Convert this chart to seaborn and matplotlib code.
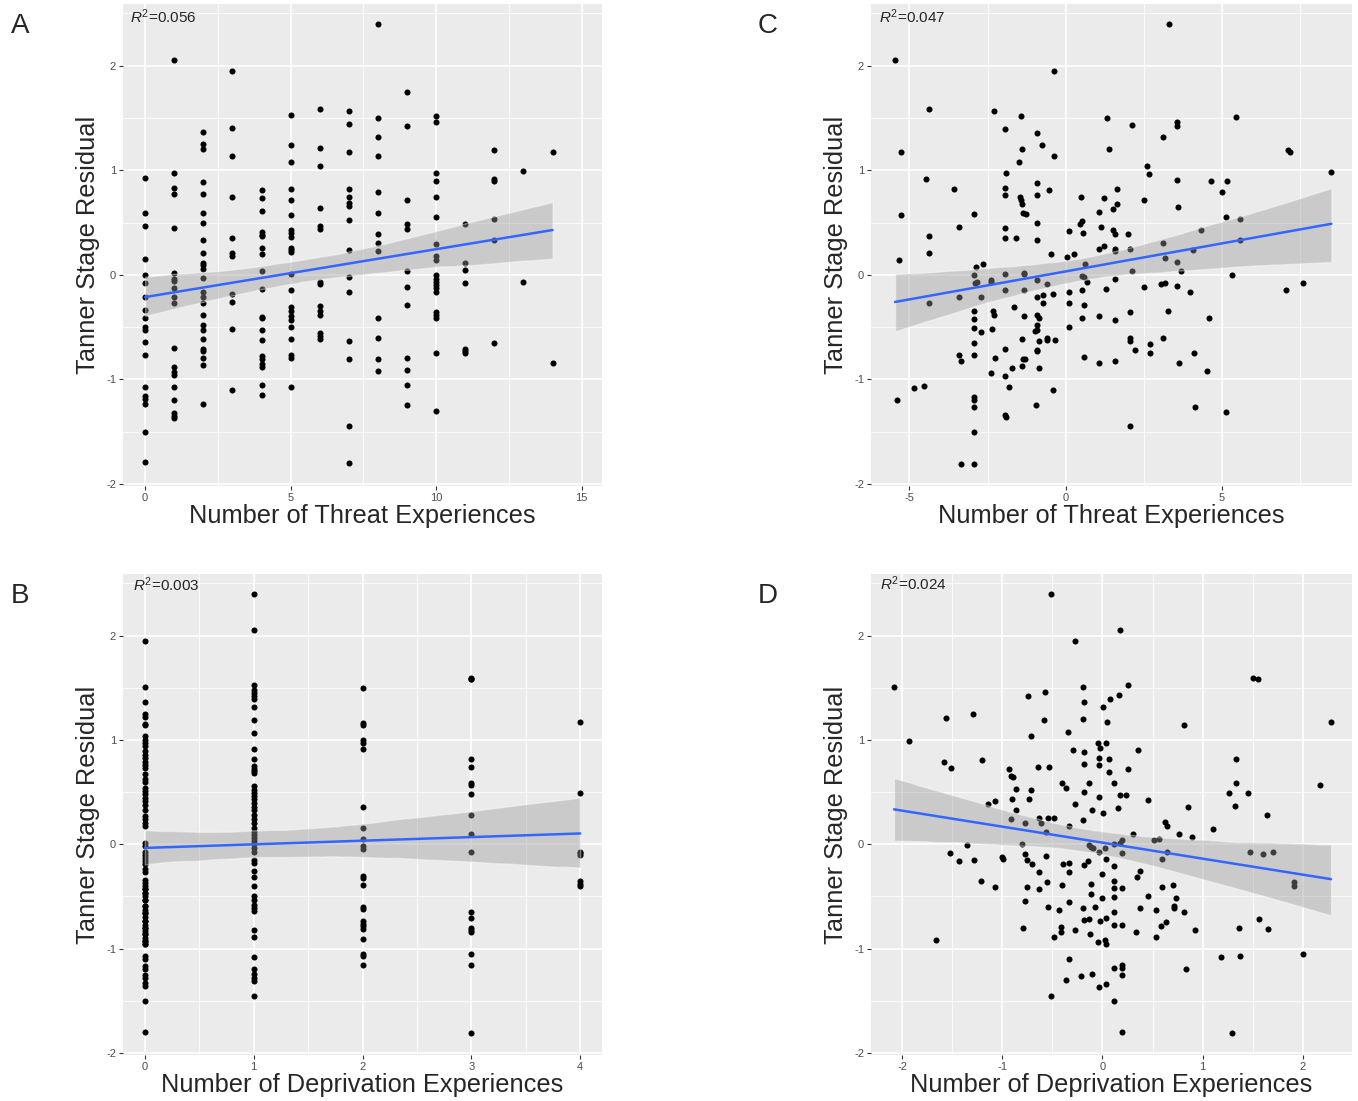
import numpy as np
import pandas as pd
import matplotlib
matplotlib.use("Agg")
import matplotlib.pyplot as plt
import seaborn as sns
from matplotlib.collections import PolyCollection
from matplotlib.ticker import AutoMinorLocator

# --- DATA ---

# Panel A: Tanner residual by raw number of threat experiences (one list per count)
threat_0 = [0.93, 0.59, 0.47, 0.15, 0.00, -0.08, -0.21, -0.34, -0.41, -0.50, -0.53, -0.64, -0.77,
            -1.07, -1.16, -1.19, -1.24, -1.50, -1.79]
threat_1 = [2.05, 0.97, 0.83, 0.77, 0.45, 0.02, -0.04, -0.06, -0.13, -0.21, -0.27, -0.70, -0.88,
            -0.93, -0.96, -1.07, -1.20, -1.32, -1.35, -1.37]
threat_2 = [1.37, 1.25, 1.20, 0.89, 0.77, 0.59, 0.50, 0.33, 0.21, 0.11, 0.09, 0.06, -0.03, -0.16,
            -0.21, -0.27, -0.38, -0.48, -0.53, -0.61, -0.71, -0.73, -0.80, -0.86, -1.24]
threat_3 = [1.95, 1.40, 1.14, 0.74, 0.35, 0.21, 0.18, -0.18, -0.26, -0.52, -1.10]
threat_4 = [0.81, 0.73, 0.61, 0.41, 0.38, 0.37, 0.26, 0.20, 0.04, -0.14, -0.40, -0.41, -0.53,
            -0.62, -0.78, -0.81, -0.85, -0.88, -1.05, -1.15]
threat_5 = [1.53, 1.24, 1.08, 0.82, 0.72, 0.57, 0.43, 0.40, 0.36, 0.26, 0.24, 0.22, 0.01, -0.15,
            -0.31, -0.35, -0.39, -0.43, -0.50, -0.61, -0.77, -0.80, -1.07]
threat_6 = [1.59, 1.21, 1.04, 0.64, 0.47, 0.44, -0.07, -0.09, -0.30, -0.35, -0.38, -0.56, -0.59, -0.61]
threat_7 = [1.57, 1.44, 1.17, 0.82, 0.74, 0.69, 0.66, 0.52, 0.24, -0.02, -0.16, -0.63, -0.81,
            -1.45, -1.80]
threat_8 = [2.40, 1.50, 1.32, 1.14, 0.79, 0.59, 0.39, 0.30, 0.23, -0.41, -0.60, -0.81, -0.92]
threat_9 = [1.75, 1.42, 0.72, 0.49, 0.44, 0.04, -0.12, -0.29, -0.80, -0.91, -1.05, -1.25]
threat_10 = [1.52, 1.46, 0.97, 0.90, 0.74, 0.55, 0.29, 0.18, 0.14, 0.00, -0.04, -0.07, -0.10,
             -0.13, -0.16, -0.36, -0.38, -0.41, -0.75, -1.30]
threat_11 = [0.49, 0.11, 0.05, -0.08, -0.71, -0.73, -0.75]
threat_12 = [1.19, 0.92, 0.90, 0.53, 0.33, -0.65]
threat_13 = [0.99, -0.07]
threat_14 = [1.17, -0.84]

# Panel B: Tanner residual by raw number of deprivation experiences
# (the dense 0 column hides overlapping points; a few stacked duplicates are included)
depriv_0 = [1.95, 1.51, 1.36, 1.25, 1.22, 1.15, 1.14, 1.04, 1.00, 0.97, 0.94, 0.89, 0.86, 0.83,
            0.79, 0.76, 0.73, 0.67, 0.63, 0.60, 0.54, 0.51, 0.48, 0.44, 0.41, 0.38, 0.33, 0.27,
            0.24, 0.20, 0.17, 0.01, -0.02, -0.07, -0.10, -0.13, -0.16, -0.19, -0.24, -0.27,
            -0.34, -0.37, -0.40, -0.43, -0.47, -0.50, -0.53, -0.59, -0.63, -0.66, -0.70, -0.74,
            -0.77, -0.80, -0.83, -0.86, -0.90, -0.93, -0.96, -1.07, -1.10, -1.17, -1.20, -1.25,
            -1.28, -1.33, -1.36, -1.50, -1.80,
            -0.43, -0.47, -0.53, -0.59, -0.66, -0.74, -0.80, -0.86, -0.93, -0.96]
depriv_1 = [2.40, 2.05, 1.53, 1.48, 1.45, 1.42, 1.39, 1.32, 1.19, 1.07, 0.91, 0.82, 0.75, 0.72,
            0.70, 0.68, 0.56, 0.52, 0.49, 0.46, 0.43, 0.40, 0.36, 0.33, 0.28, 0.24, 0.20, 0.16,
            0.12, 0.09, 0.06, 0.03, 0.00, -0.04, -0.07, -0.15, -0.18, -0.26, -0.31, -0.40, -0.50,
            -0.53, -0.58, -0.61, -0.64, -0.82, -0.89, -1.08, -1.20, -1.24, -1.28, -1.31, -1.45]
depriv_2 = [1.50, 1.16, 1.14, 1.00, 0.97, 0.91, 0.36, 0.16, 0.05, -0.02, -0.05, -0.30, -0.32,
            -0.39, -0.60, -0.62, -0.74, -0.76, -0.78, -0.81, -0.91, -1.05, -1.07, -1.16]
depriv_3 = [1.59, 1.58, 1.58, 0.82, 0.74, 0.59, 0.57, 0.48, 0.28, 0.10, -0.07, -0.65, -0.71, -0.80,
            -0.82, -0.84, -1.05, -1.16, -1.81]
depriv_4 = [1.17, 0.49, -0.07, -0.08, -0.10, -0.35, -0.38, -0.40]

# Panel C: threat experiences (residualised) vs Tanner residual
c_x = [-5.46, -4.36, -5.28, -4.47, -3.59, -5.28, -3.40, -4.36, -5.32, -4.39, -4.36, -5.41, -4.87, -4.52, -3.40, -3.34, -3.40,
       -2.93, -2.87, -2.66, -2.92, -2.91, -2.85, -2.72, -2.93, -2.93, -2.93, -2.72, -2.92, -2.93, -2.93, -2.93, -2.93, -2.92, -3.36, -2.93,
       -2.29, -2.40, -2.39, -2.34, -2.31, -2.35, -2.27, -2.40,
       -1.93, -1.92, -1.93, -1.93, -1.93, -1.94, -1.93, -1.93, -1.93, -1.94, -1.94, -1.92, -1.81, -1.73, -1.67, -1.60,
       -1.48, -1.42, -1.40, -1.46, -1.42, -1.39, -1.28, -1.38, -1.35, -1.33, -1.35, -1.35, -1.39, -1.38, -1.39, -1.31,
       -0.93, -0.92, -0.92, -0.93, -0.93, -0.93, -0.93, -0.93, -0.87, -0.93, -0.93, -0.98, -0.93, -0.92, -0.85, -0.86, -0.94,
       -0.77, -0.55, -0.61, -0.74, -0.74, -0.48, -0.61, -0.61, -0.34, -0.42, -0.42, -0.39, -0.37,
       0.05, 0.12, 0.09, 0.09, 0.12, 0.28, 0.46, 0.48, 0.51, 0.54, 0.51, 0.59, 0.51, 0.51, 0.59, 0.59, 0.63, 0.69,
       1.06, 1.13, 1.07, 1.21, 1.24, 1.29, 1.05, 1.06, 1.32, 1.40,
       2.11, 3.32, 3.10, 3.57, 3.57, 5.44, 7.10, 7.18, 8.50, 2.59,
       2.66, 3.57, 4.64, 5.17, 4.99, 1.65, 1.65, 1.50, 2.50, 3.59,
       5.12, 5.58, 4.33, 1.50, 1.58, 1.99, 1.58, 1.58, 2.06, 3.10,
       3.18, 2.12, 1.57, 3.57, 3.68, 4.06, 5.58, 5.32, 2.52, 3.04,
       3.18, 3.57, 3.98, 7.05, 7.58, 2.05, 3.26, 1.59, 4.59, 2.05,
       2.05, 3.12, 2.70, 2.22, 2.70, 1.59, 3.63, 4.11, 4.53, 4.13,
       5.12, 2.06]
c_y = [2.05, 1.59, 1.17, 0.92, 0.82, 0.57, 0.46, 0.37, 0.14, 0.21, -0.27, -1.20, -1.08, -1.06, -0.77, -0.82, -0.21,
       0.58, 0.07, 0.10, 0.00, -0.08, -0.07, -0.21, -0.35, -0.42, -0.51, -0.55, -0.65, -0.77, -1.17, -1.20, -1.26, -1.50, -1.81, -1.81,
       1.57, -0.05, -0.07, -0.35, -0.38, -0.52, -0.80, -0.94,
       1.39, 0.97, 0.83, 0.76, 0.45, 0.35, 0.01, -0.15, -0.71, -0.97, -1.34, -1.36, -1.07, -0.89, -0.31, 0.35,
       1.08, 1.52, 1.20, 0.74, 0.72, 0.68, 0.58, 0.59, 0.01, 0.02, -0.15, -0.39, -0.61, -0.81, -0.87, -0.81,
       1.36, 0.88, 0.76, 0.50, 0.33, -0.05, -0.21, -0.38, -0.41, -0.48, -0.53, -0.54, -0.72, -0.73, -0.63, -0.89, -1.25,
       1.24, 0.81, -0.09, -0.19, -0.27, 0.20, -0.60, -0.62, -0.62, -0.18, -1.10, 1.95, 1.14,
       0.17, 0.42, -0.16, -0.27, -0.50, 0.20, 0.49, 0.74, 0.51, 0.40, -0.01, -0.02, -0.15, -0.41, -0.29, -0.79, 0.10, -0.07,
       0.60, 0.46, 0.25, 0.73, 0.28, -0.14, -0.39, -0.84, 1.50, 1.20,
       1.43, 2.40, 1.32, 1.46, 1.42, 1.51, 1.19, 1.17, 0.98, 1.04,
       0.96, 0.91, 0.90, 0.90, 0.79, 0.82, 0.68, 0.63, 0.72, 0.65,
       0.55, 0.53, 0.43, 0.43, 0.39, 0.39, 0.25, 0.23, 0.25, 0.30,
       0.16, 0.04, -0.04, 0.12, 0.04, 0.24, 0.33, 0.00, -0.12, -0.09,
       -0.08, -0.11, -0.16, -0.15, -0.08, -0.36, -0.35, -0.43, -0.41, -0.60,
       -0.63, -0.60, -0.66, -0.72, -0.75, -0.82, -0.84, -0.75, -0.92, -1.26,
       -1.31, -1.45]

# Panel D: deprivation experiences (residualised) vs Tanner residual
d_x = [-2.08, -1.93, -1.56, -1.29, -1.58, -1.51, -1.20, -1.66, -1.52, -1.43,
       -1.35, -1.28, -1.21, -1.07, -1.14, -1.07, -1.00, -0.99, -0.93, -0.91,
       -0.89, -0.90, -0.86, -0.86, -0.91, -0.77, -0.74, -0.71, -0.73, -0.71,
       -0.64, -0.63, -0.57, -0.58, -0.53, -0.61, -0.54, -0.48, -0.56, -0.80,
       -0.77, -0.75, -0.70, -0.75, -0.77, -0.63, -0.63, -0.56, -0.55, -0.54,
       -0.79, -0.51, -0.48, -0.43, -0.41, -0.41, -0.40, -0.36, -0.39, -0.40,
       -0.36, -0.33, -0.33, -0.34, -0.33, -0.33, -0.33, -0.29, -0.27, -0.27,
       -0.27, -0.21, -0.19, -0.18, -0.19, -0.18, -0.18, -0.18, -0.19, -0.18,
       -0.19, -0.18, -0.13, -0.14, -0.13, -0.12, -0.10, -0.10, -0.13, -0.11,
       -0.11, -0.11, -0.09, -0.07, -0.04, -0.03, -0.03, -0.04, -0.03, -0.03,
       -0.02, -0.03, -0.02, 0.00, 0.00, 0.01, 0.01, -0.51,
       0.17, 0.25, 0.16, 0.08, 0.05, 0.81, 1.50, 1.55, 2.28, 0.04,
       0.35, 0.07, 1.33, 0.07, 0.25, 0.11, 1.33, 2.17, 0.17, 0.23,
       0.15, 0.45, 0.85, 1.26, 1.45, 1.32, 1.64, 1.10, 0.62, 0.64,
       0.76, 0.89, 0.30, 0.51, 0.56, 0.19, 0.17, 0.11, 0.03, 0.19,
       0.04, 0.64, 0.59, 1.47, 1.60, 1.70, 0.11, 0.37, 0.34, 0.11,
       0.11, 0.19, 0.59, 0.70, 1.91, 1.91, 0.11, 0.73, 0.45, 0.37,
       0.53, 0.71, 0.71, 0.81, 0.11, 0.04, 0.11, 0.19, 0.58, 0.63,
       1.56, 1.65, 1.36, 0.33, 0.53, 0.92, 0.03, 0.04, 1.18, 1.37,
       2.00, 0.11, 0.19, 0.19, 0.19, 0.83, 0.04, 0.11, 0.19, 1.29]
d_y = [1.51, 0.99, 1.21, 1.25, 0.79, 0.73, 0.81, -0.92, -0.08, -0.16,
       -0.01, -0.15, -0.35, -0.41, 0.39, 0.41, -0.12, -0.14, 0.72, 0.65,
       0.64, 0.43, 0.53, 0.33, 0.24, 0.20, 1.42, 0.52, 0.43, 1.04,
       0.74, 0.25, 1.46, 1.19, 0.74, 0.20, 0.25, 0.25, 0.12, 0.00,
       -0.09, -0.15, -0.19, -0.41, -0.54, -0.27, -0.43, -0.11, -0.36, -0.60,
       -0.80, -1.45, -0.89, -0.63, -0.79, -0.84, 0.59, 0.54, -0.19, -0.39,
       -1.30, 0.17, -1.10, 1.08, -0.18, -0.27, -0.55, 0.90, 1.95, 0.39,
       -0.82, -1.26, 1.51, 1.36, 1.20, 0.88, 0.77, 0.50, 0.23, -0.20,
       -0.61, -0.73, 0.59, -0.16, -0.72, -0.86, 0.33, -1.24, -0.01, -0.03,
       -0.38, -0.48, -0.04, -0.60, 0.97, 0.76, 0.45, -0.94, -1.37, -0.07,
       0.92, 0.83, -0.74, -0.29, -0.52, 0.30, 1.32, 2.40,
       2.05, 1.53, 1.43, 1.39, 1.17, 1.14, 1.59, 1.58, 1.17, 0.97,
       0.90, 0.82, 0.82, 0.69, 0.72, 0.59, 0.59, 0.57, 0.47, 0.47,
       0.35, 0.42, 0.36, 0.49, 0.49, 0.37, 0.28, 0.15, 0.21, 0.17,
       0.10, 0.07, 0.10, 0.04, 0.05, 0.04, 0.01, 0.00, -0.04, -0.08,
       -0.14, -0.07, -0.14, -0.07, -0.09, -0.07, -0.21, -0.26, -0.31, -0.35,
       -0.42, -0.42, -0.41, -0.39, -0.36, -0.40, -0.51, -0.52, -0.50, -0.61,
       -0.63, -0.59, -0.61, -0.65, -0.65, -0.71, -0.77, -0.77, -0.78, -0.75,
       -0.72, -0.81, -0.80, -0.84, -0.89, -0.82, -0.92, -0.96, -1.08, -1.07,
       -1.05, -1.19, -1.16, -1.19, -1.25, -1.20, -1.34, -1.50, -1.80, -1.81]

r2_labels = ["0.056", "0.003", "0.047", "0.024"]
panel_letters = ["A", "B", "C", "D"]
threat_label = "Number of Threat Experiences"
depriv_label = "Number of Deprivation Experiences"
y_label = "Tanner Stage Residual"


def columns_to_frame(cols):
    xs, ys = [], []
    for count, vals in enumerate(cols):
        xs += [count] * len(vals)
        ys += vals
    return pd.DataFrame({"x": xs, "y": ys})


df_a = columns_to_frame([threat_0, threat_1, threat_2, threat_3, threat_4, threat_5, threat_6,
                         threat_7, threat_8, threat_9, threat_10, threat_11, threat_12,
                         threat_13, threat_14])
df_b = columns_to_frame([depriv_0, depriv_1, depriv_2, depriv_3, depriv_4])
assert len(c_x) == len(c_y) and len(d_x) == len(d_y)
df_c = pd.DataFrame({"x": c_x, "y": c_y})
df_d = pd.DataFrame({"x": d_x, "y": d_y})

# --- STYLE ---
sns.set_theme(style="darkgrid", rc={"axes.facecolor": "#EBEBEB", "grid.color": "white"})
plt.rcParams["font.family"] = ["Liberation Sans", "DejaVu Sans"]
plt.rcParams["mathtext.fontset"] = "custom"
plt.rcParams["mathtext.rm"] = "Liberation Sans"
plt.rcParams["mathtext.it"] = "Liberation Sans:italic"
plt.rcParams["axes.unicode_minus"] = False

W, H = 1358, 1101
fig = plt.figure(figsize=(W / 100, H / 100), dpi=100)


def px_box(left, top, right, bottom):
    return [left / W, 1 - bottom / H, (right - left) / W, (bottom - top) / H]


# (data, box in px, xlim, xticks, xlabel, r2 position in axes fraction)
panels = [
    (df_a, (123, 4, 602, 486), (-0.76, 15.70), [0, 5, 10, 15], threat_label, (0.015, 0.961)),
    (df_b, (123, 574, 602, 1055), (-0.20, 4.20), [0, 1, 2, 3, 4], depriv_label, (0.021, 0.965)),
    (df_c, (871, 4, 1352, 486), (-6.23, 9.16), [-5, 0, 5], threat_label, (0.017, 0.961)),
    (df_d, (871, 574, 1352, 1055), (-2.31, 2.49), [-2, -1, 0, 1, 2], depriv_label, (0.019, 0.966)),
]

for i, (df, bx, xlim, xticks, xlabel, r2_pos) in enumerate(panels):
    l, t, r, b = bx
    ax = fig.add_axes(px_box(l, t, r, b))
    sns.regplot(data=df, x="x", y="y", ax=ax, color="black", seed=3, truncate=True,
                scatter_kws={"s": 19, "alpha": 1, "linewidths": 0},
                line_kws={"color": "#3366FF", "lw": 1.8})
    # ggplot-like grey confidence band
    for coll in ax.collections:
        if isinstance(coll, PolyCollection):
            coll.set_facecolor("#999999")
            coll.set_alpha(0.4)
    ax.set_xlabel("")
    ax.set_ylabel("")
    ax.set_xlim(*xlim)
    ax.set_ylim(-2.02, 2.59)
    ax.set_xticks(xticks)
    ax.set_yticks([-2, -1, 0, 1, 2])
    ax.xaxis.set_minor_locator(AutoMinorLocator(2))
    ax.yaxis.set_minor_locator(AutoMinorLocator(2))
    ax.grid(which="major", color="white", lw=1.2)
    ax.grid(which="minor", color="white", lw=0.6)
    ax.set_axisbelow(True)
    for s in ax.spines.values():
        s.set_visible(False)
    ax.tick_params(which="major", labelsize=8, labelcolor="#4D4D4D", length=3, width=0.8,
                   color="#333333", pad=2, left=True, bottom=True)
    ax.tick_params(which="minor", length=0)

    ax.text(r2_pos[0], r2_pos[1], r"$R^2$=" + r2_labels[i], transform=ax.transAxes,
            fontsize=11, ha="left", va="baseline")

    # axis titles and panel letters in pixel positions
    fig.text((l + r) / 2 / W, 1 - (b + 37) / H, xlabel, fontsize=18.3, ha="center", va="baseline")
    fig.text((l - 35) / W, 1 - (t + b) / 2 / H, y_label, fontsize=18.3, rotation=90,
             ha="center", va="center")
    fig.text((l - 103) / W, 1 - (t + 29) / H, panel_letters[i], fontsize=20,
             ha="center", va="baseline")

fig.savefig("out.png", dpi=100)
